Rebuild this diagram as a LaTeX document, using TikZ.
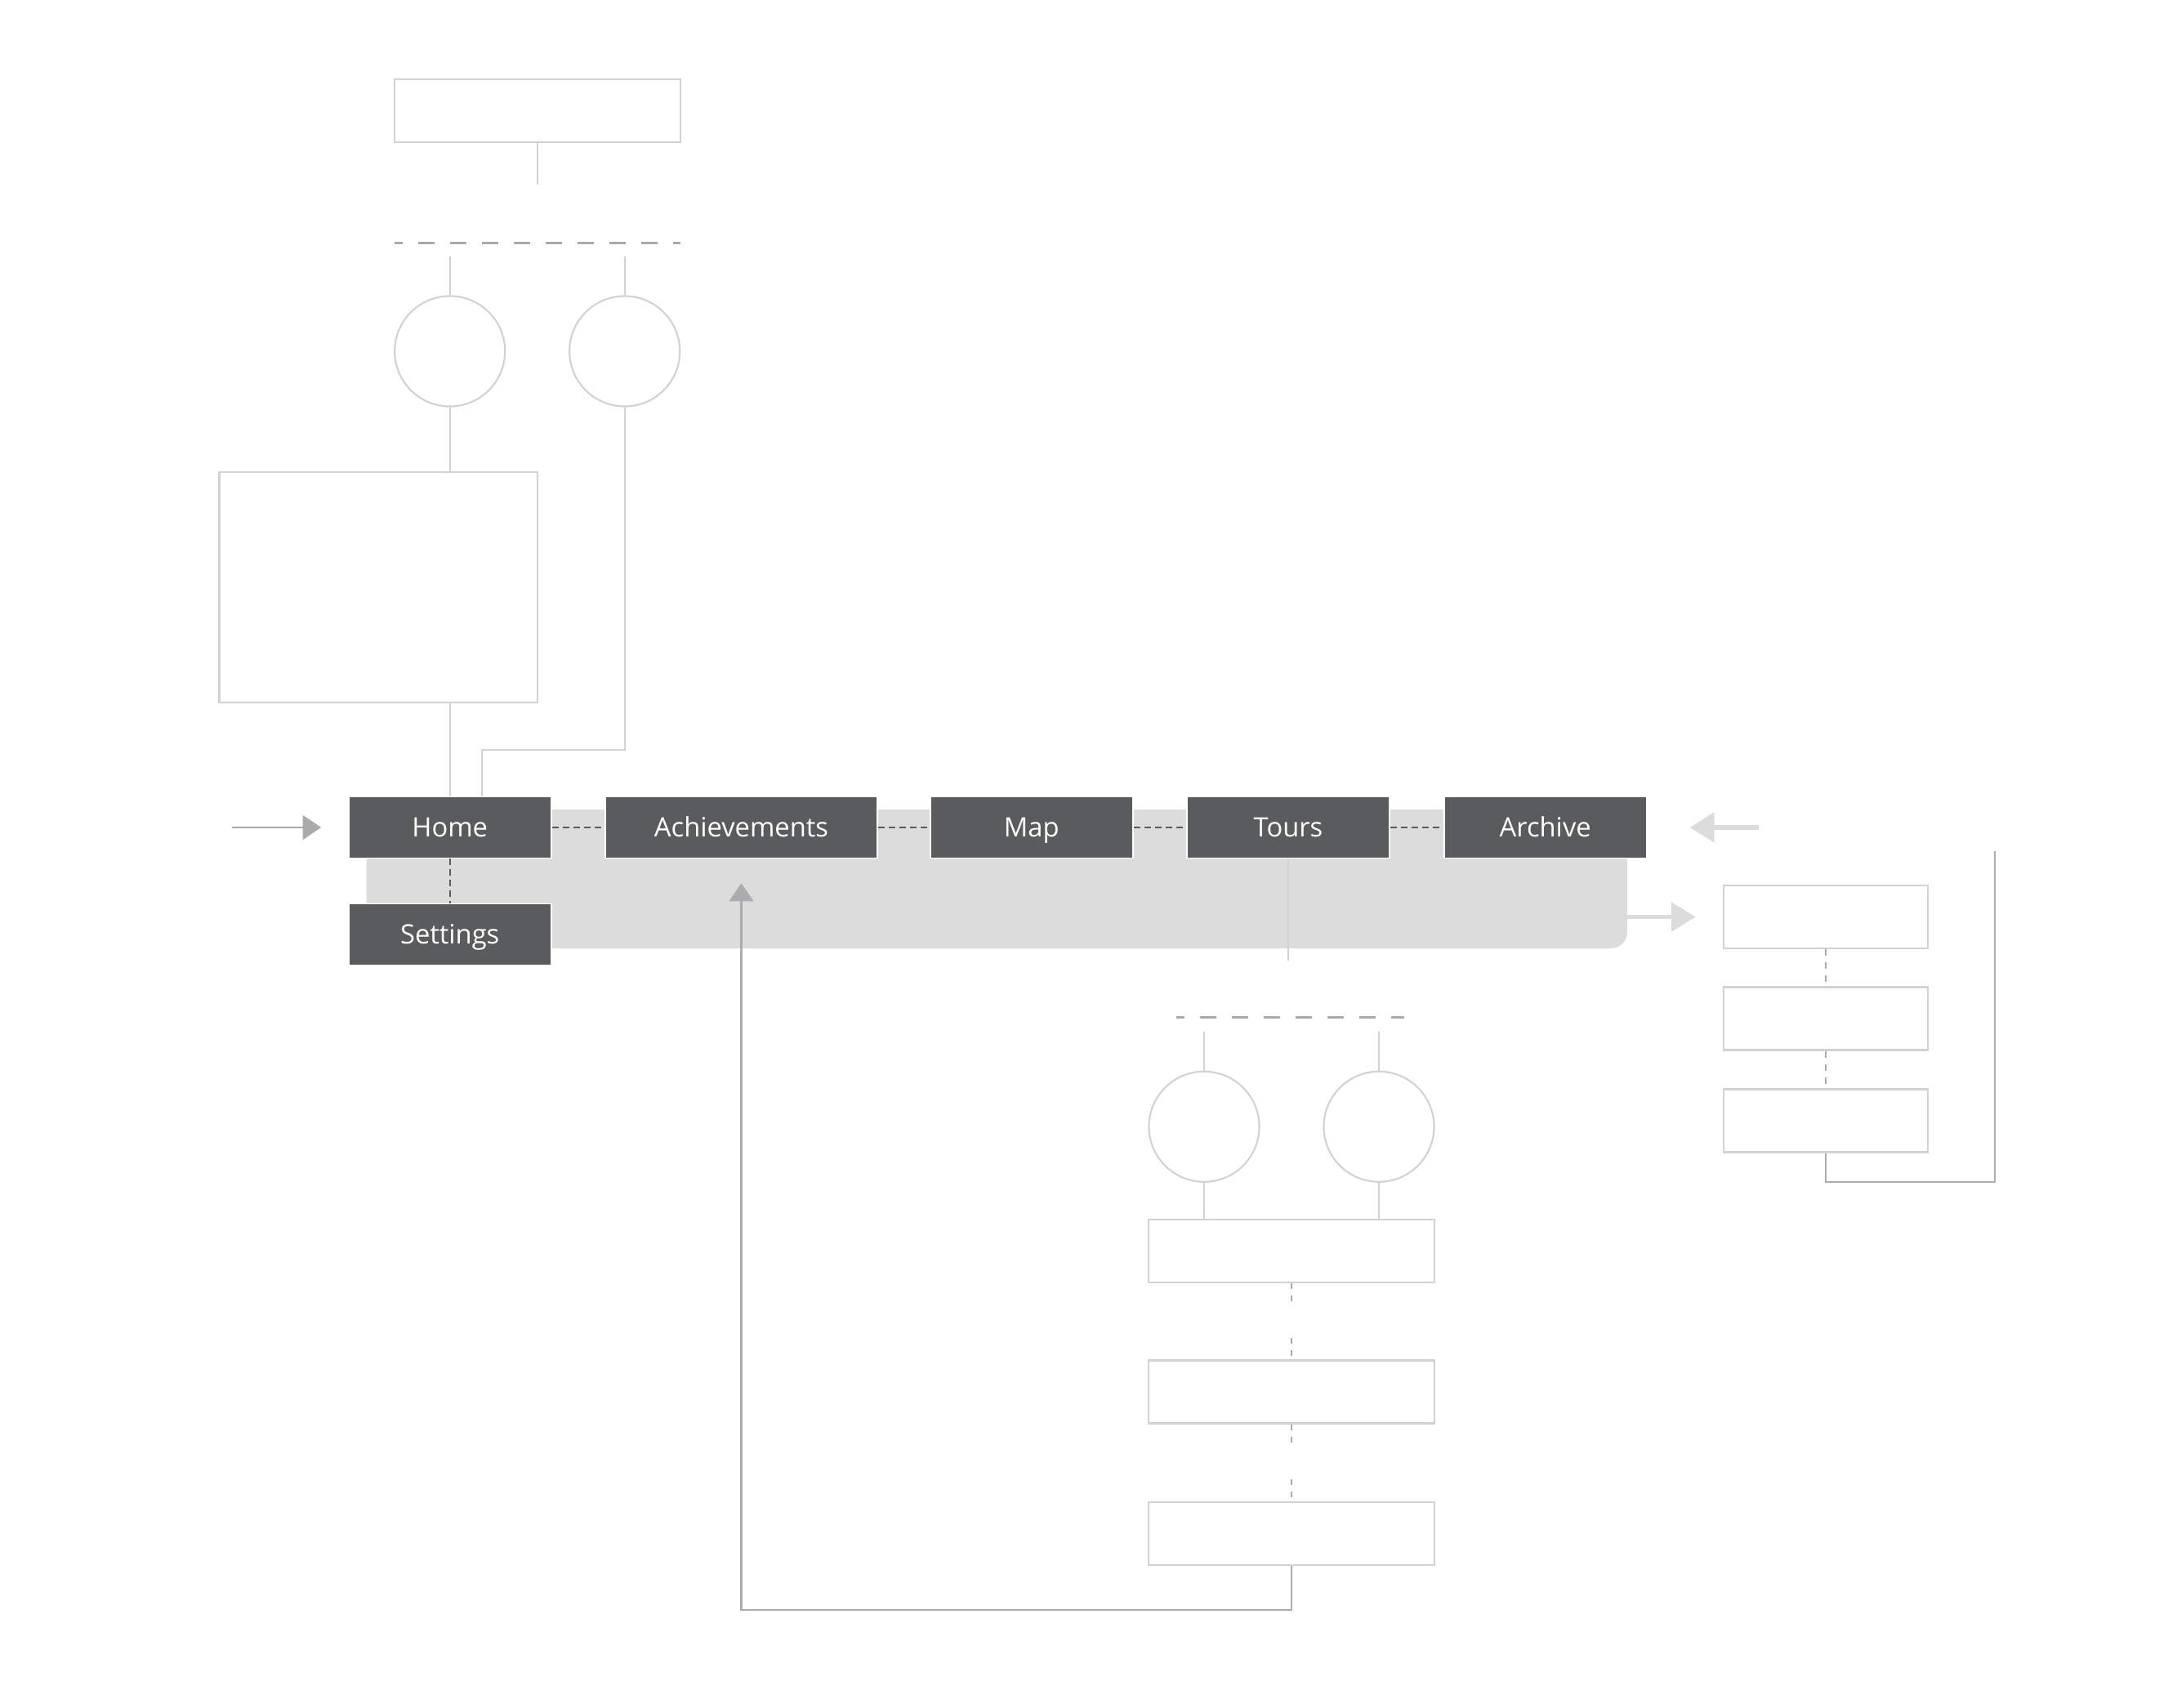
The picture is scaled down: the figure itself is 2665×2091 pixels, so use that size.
\documentclass[tikz,border=0pt]{standalone}
\usepackage{fontspec}
\setmainfont{Open Sans}
\usepackage{tikz}
\usetikzlibrary{calc,positioning,arrows.meta,backgrounds}
\definecolor{navgray}{HTML}{5A5B5D}
\definecolor{bandgray}{HTML}{DCDCDC}
\definecolor{boxline}{HTML}{D2D2D2}
\definecolor{dashgray}{HTML}{AAAAAB}
\definecolor{loopgray}{HTML}{ACACAE}

\begin{document}
\begin{tikzpicture}[x=0.01cm, y=-0.01cm]
\tikzstyle{nav}=[rectangle, draw=white, line width=0.5pt, fill=navgray, text=white,
                 minimum width=2.48cm, minimum height=0.75cm, inner sep=0pt, text height=8pt, text depth=1.4pt,
                 font=\fontsize{9.3}{11}\selectfont]
\tikzstyle{emptybox}=[rectangle, draw=boxline, line width=0.6pt, inner sep=0pt, minimum width=3.5cm, minimum height=0.77cm]
\tikzstyle{ring}=[circle, draw=boxline, line width=0.6pt, inner sep=0pt, minimum size=1.35cm]
\tikzstyle{wire}=[boxline, line width=0.6pt]
\tikzstyle{grpdash}=[dashgray, line width=0.7pt, dash pattern=on 0.2cm off 0.19cm, dash phase=0.1cm]
\tikzstyle{navdash}=[navgray, line width=0.6pt, dash pattern=on 0.08cm off 0.05cm]
\tikzstyle{stepdash}=[dashgray, line width=0.6pt, dash pattern=on 0.08cm off 0.08cm]
\tikzstyle{gapdash}=[dashgray, line width=0.6pt, dash pattern=on 0.07cm off 0.08cm on 0.07cm off 0.45cm]
\tikzstyle{loopline}=[loopgray, line width=0.6pt]
\useasboundingbox (0,0) rectangle (2665,2091);
% top group
\node[emptybox] (top) at (657.7,135.2) {};
\coordinate (topend) at (657.7,226);
\coordinate (dl1) at (483,297.4);
\coordinate (dl2) at (833,297.4);
\node[ring] (c1) at (550.7,430) {};
\node[ring] (c2) at (764.7,430) {};
\coordinate (s1) at (550.7,314);
\coordinate (s2) at (764.7,314);
\node[emptybox, minimum width=3.89cm, minimum height=2.82cm] (big) at (463.1,719) {};
\coordinate (hook) at (590,918);
% nav row
\node[nav] (home) at (550.7,1013) {Home};
\node[nav, minimum width=3.33cm] (ach) at (907.5,1013) {Achievements};
\node[nav] (map) at (1262.8,1013) {Map};
\node[nav] (tours) at (1577,1013) {Tours};
\node[nav] (archive) at (1891.7,1013) {Archive};
\node[nav] (settings) at (550.7,1144) {Settings};
\begin{scope}[on background layer]
\fill[bandgray] (448.7,991) -- (1992,991) -- (1992,1100) [rounded corners=0.2cm] -- (1992,1161) -- (1900,1161) [sharp corners] -- (448.7,1161) -- cycle;
\end{scope}
\coordinate (entry) at (284,1013);
\coordinate (backin) at (2152.7,1013);
\coordinate (bandout) at (1992,1122.5);
\coordinate (toursend) at (1577,1176);
% right stack
\node[emptybox, minimum width=2.5cm] (r1) at (2235,1122.5) {};
\node[emptybox, minimum width=2.5cm] (r2) at (2235,1247) {};
\node[emptybox, minimum width=2.5cm] (r3) at (2235,1372) {};
\coordinate (rtop) at (2441.7,1041.7);
% bottom group
\coordinate (bl1) at (1440,1245.7);
\coordinate (bl2) at (1719,1245.7);
\node[ring] (c3) at (1474,1379.3) {};
\node[ring] (c4) at (1688,1379.3) {};
\coordinate (s3) at (1474,1262.7);
\coordinate (s4) at (1688,1262.7);
\node[emptybox] (ba) at (1581,1531.3) {};
\node[emptybox] (bb) at (1581,1704) {};
\node[emptybox] (bc) at (1581,1877.5) {};

\draw[wire] (top.south) -- (topend);
\draw[grpdash] (dl1) -- (dl2);
\foreach \s/\c in {s1/c1,s2/c2,s3/c3,s4/c4}{\draw[wire] (\s) -- (\c.north);}
\draw[wire] (c1.south) -- (c1.south |- big.north);
\draw[wire] (home.north) -- (home.north |- big.south);
\draw[wire] (c2.south) |- (hook) -- (hook |- home.north);
\foreach \a/\b in {home/ach,ach/map,map/tours,tours/archive,home/settings}{\draw[navdash] (\a) -- (\b);}
\draw[boxline, line width=0.4pt] (tours.south) -- (toursend);
\draw[dashgray, line width=0.6pt, -{Triangle[length=2.25mm, width=3mm]}, shorten >=0.326cm] (entry) -- (home.west);
\draw[bandgray, line width=1.7pt, -{Triangle[length=3mm, width=3.6mm]}, shorten >=0.52cm] (backin) -- (archive.east);
\draw[bandgray, line width=1.7pt, -{Triangle[length=3mm, width=3.5mm]}, shorten >=0.33cm] (bandout) -- (r1.west);
\foreach \a/\b in {r1/r2,r2/r3}{\draw[stepdash] (\a) -- (\b);}
\draw[loopline] (r3.south) -- ++(0,35.2) -| (rtop);
\draw[grpdash] (bl1) -- (bl2);
\draw[wire] (c3.south) -- (c3.south |- ba.north);
\draw[wire] (c4.south) -- (c4.south |- ba.north);
\foreach \a/\b in {ba/bb,bb/bc}{\draw[gapdash] (\a) -- (\b);}
\draw[loopline, -{Triangle[length=2.2mm, width=3mm]}, shorten >=0.3cm] (bc.south) -- ++(0,54) -| (ach.south);
\end{tikzpicture}
\end{document}
